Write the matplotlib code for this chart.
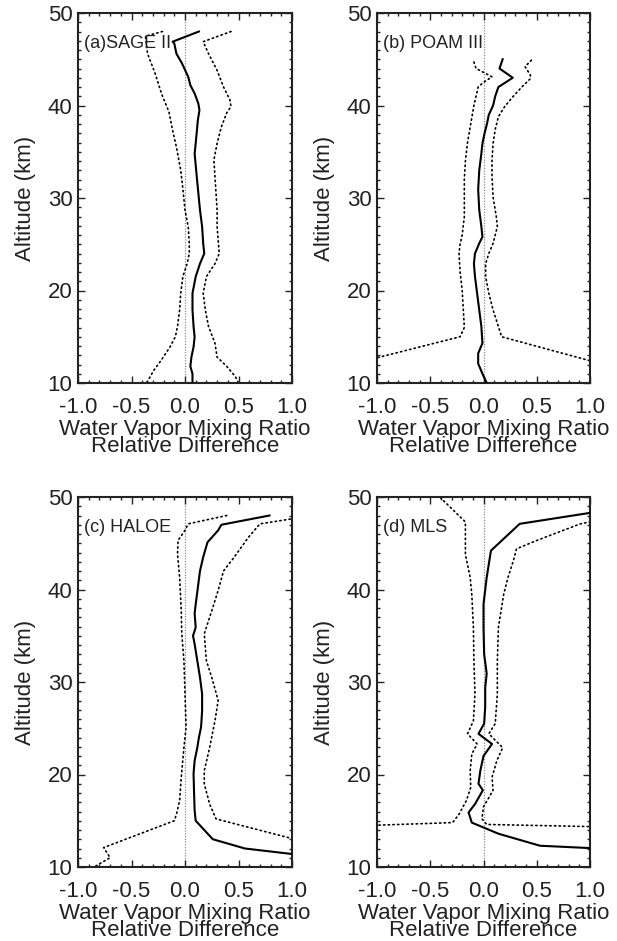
import matplotlib
matplotlib.use('Agg')
import matplotlib.pyplot as plt
from matplotlib.ticker import MultipleLocator, FormatStrFormatter

plt.rcParams['font.family'] = 'Liberation Sans'
plt.rcParams['axes.unicode_minus'] = False

# (a) SAGE II: mean relative difference and the two spread bounds
sage_alt_mean = [48.0, 46.9, 46.7, 45.6, 44.6, 43.1, 42.2, 41.3, 40.2, 39.5, 38.4, 35.9, 34.8, 32.3,
                 28.7, 26.9, 25.1, 24.0, 22.9, 21.5, 19.7, 17.9, 16.1, 15.0, 13.9, 12.8, 11.8, 11.0, 10.0]
sage_mean = [0.13, -0.115, -0.10, -0.08, -0.03, 0.03, 0.05, 0.09, 0.125, 0.135, 0.12, 0.10, 0.09, 0.11,
             0.14, 0.16, 0.17, 0.18, 0.14, 0.10, 0.07, 0.07, 0.08, 0.09, 0.08, 0.06, 0.05, 0.07, 0.07]
sage_alt_lo = [48.0, 47.5, 45.6, 43.5, 41.3, 39.3, 37.0, 35.5, 33.0, 31.0, 28.7, 26.9, 25.1, 24.0,
               22.9, 21.5, 19.7, 17.9, 16.1, 15.0, 13.9, 12.5, 11.4, 10.0]
sage_lo = [-0.21, -0.37, -0.35, -0.28, -0.22, -0.15, -0.11, -0.08, -0.04, -0.02, 0.0, 0.03, 0.04, 0.04,
           0.02, -0.02, -0.04, -0.05, -0.07, -0.09, -0.14, -0.22, -0.29, -0.36]
sage_alt_hi = [48.0, 46.9, 45.6, 43.8, 42.0, 40.6, 39.9, 39.2, 37.7, 35.9, 34.1, 32.3, 28.7, 26.9,
               24.0, 22.9, 21.5, 19.7, 17.9, 16.1, 14.3, 12.8, 11.8, 10.7, 10.0]
sage_hi = [0.43, 0.17, 0.22, 0.30, 0.36, 0.42, 0.43, 0.39, 0.34, 0.30, 0.27, 0.28, 0.30, 0.30,
           0.32, 0.28, 0.20, 0.17, 0.19, 0.22, 0.28, 0.30, 0.39, 0.47, 0.50]

# (b) POAM III
poam_alt_mean = [45.0, 44.0, 43.0, 42.0, 41.0, 40.0, 39.0, 37.9, 37.0, 35.9, 34.8, 33.0, 30.9, 28.7,
                 26.9, 25.8, 25.1, 24.0, 22.9, 21.5, 19.7, 17.9, 16.1, 14.3, 13.2, 12.1, 11.0, 10.0]
poam_mean = [0.18, 0.15, 0.275, 0.14, 0.11, 0.09, 0.05, 0.03, 0.01, -0.01, -0.02, -0.04, -0.05, -0.04,
             -0.02, -0.01, -0.04, -0.08, -0.09, -0.08, -0.06, -0.04, -0.02, -0.01, -0.05, -0.05, -0.01, 0.03]
poam_alt_lo = [44.7, 44.0, 43.1, 42.5, 42.0, 41.0, 40.0, 38.0, 36.0, 34.0, 32.0, 30.0, 28.0, 26.0,
               25.0, 24.0, 22.0, 20.0, 18.0, 16.0, 15.0, 12.0]
poam_lo = [-0.09, -0.07, 0.08, 0.0, -0.05, -0.07, -0.09, -0.12, -0.15, -0.17, -0.18, -0.18, -0.18, -0.20,
           -0.22, -0.23, -0.22, -0.20, -0.19, -0.18, -0.22, -1.25]
poam_alt_hi = [44.9, 44.2, 43.3, 42.9, 42.0, 41.0, 39.9, 38.8, 37.4, 35.9, 34.1, 32.3, 30.1, 28.0,
               26.9, 25.1, 24.0, 22.9, 21.5, 19.7, 17.9, 16.1, 15.0, 12.0]
poam_hi = [0.45, 0.39, 0.44, 0.44, 0.36, 0.28, 0.20, 0.14, 0.11, 0.09, 0.08, 0.08, 0.09, 0.12,
           0.13, 0.09, 0.05, 0.02, 0.02, 0.05, 0.09, 0.14, 0.17, 1.13]

# (c) HALOE
haloe_alt_mean = [48.0, 47.0, 46.4, 45.1, 43.5, 42.0, 40.2, 38.4, 37.4, 35.9, 35.0, 34.1, 32.3, 30.5,
                  28.7, 26.9, 25.1, 24.0, 22.9, 21.5, 20.1, 17.9, 16.1, 15.0, 13.0, 12.0, 11.0]
haloe_mean = [0.79, 0.34, 0.31, 0.21, 0.17, 0.14, 0.12, 0.10, 0.09, 0.10, 0.075, 0.09, 0.115, 0.14,
              0.16, 0.16, 0.15, 0.13, 0.115, 0.09, 0.08, 0.085, 0.09, 0.10, 0.26, 0.56, 1.3]
haloe_alt_lo = [48.0, 47.1, 46.4, 45.3, 43.8, 41.3, 37.7, 35.2, 32.3, 28.7, 25.1, 22.9, 19.7, 17.2,
                15.7, 15.0, 12.1, 11.0, 10.0]
haloe_lo = [0.39, 0.03, 0.0, -0.065, -0.07, -0.05, -0.035, -0.03, -0.01, 0.0, 0.01, -0.01, -0.035, -0.05,
            -0.08, -0.10, -0.76, -0.70, -0.85]
haloe_alt_hi = [48.0, 47.1, 45.6, 43.5, 42.0, 39.9, 37.7, 35.2, 32.3, 30.5, 28.0, 25.8, 22.9, 20.4,
                19.0, 16.8, 15.2, 12.0]
haloe_hi = [1.2, 0.70, 0.59, 0.46, 0.36, 0.31, 0.25, 0.18, 0.20, 0.25, 0.31, 0.28, 0.23, 0.18,
            0.18, 0.23, 0.29, 1.36]

# (d) MLS
mls_alt_mean = [49.0, 47.1, 44.2, 41.3, 38.4, 35.9, 33.0, 30.9, 29.4, 27.3, 25.5, 24.4, 23.3, 22.0,
                20.4, 19.0, 18.3, 16.8, 15.9, 14.8, 13.6, 12.3, 11.5]
mls_mean = [1.4, 0.34, 0.07, 0.03, 0.0, 0.0, 0.006, 0.03, 0.016, 0.016, 0.006, -0.047, 0.08, 0.0,
            -0.03, -0.047, -0.006, -0.08, -0.14, -0.11, 0.14, 0.53, 2.0]
mls_alt_lo = [51.0, 47.3, 43.8, 41.3, 39.5, 35.9, 32.3, 28.7, 25.8, 24.4, 23.3, 22.2, 20.4, 18.6,
              17.2, 15.7, 14.8, 14.4]
mls_lo = [-0.5, -0.17, -0.17, -0.125, -0.11, -0.095, -0.09, -0.08, -0.095, -0.15, -0.06, -0.11, -0.125, -0.12,
          -0.16, -0.23, -0.29, -1.3]
mls_alt_hi = [48.0, 47.1, 46.4, 45.3, 44.4, 43.1, 41.3, 39.5, 35.9, 32.3, 28.7, 25.5, 24.4, 22.9,
              21.5, 19.7, 18.3, 16.5, 15.2, 14.6, 14.3]
mls_hi = [1.3, 0.91, 0.75, 0.5, 0.31, 0.28, 0.23, 0.19, 0.14, 0.13, 0.13, 0.11, 0.05, 0.18,
          0.125, 0.08, 0.09, 0.0, -0.015, 0.03, 1.3]

panels = [
    ('(a)SAGE II', sage_alt_mean, sage_mean, sage_alt_lo, sage_lo, sage_alt_hi, sage_hi),
    ('(b) POAM III', poam_alt_mean, poam_mean, poam_alt_lo, poam_lo, poam_alt_hi, poam_hi),
    ('(c) HALOE', haloe_alt_mean, haloe_mean, haloe_alt_lo, haloe_lo, haloe_alt_hi, haloe_hi),
    ('(d) MLS', mls_alt_mean, mls_mean, mls_alt_lo, mls_lo, mls_alt_hi, mls_hi),
]

W, H = 617, 941
fig = plt.figure(figsize=(W / 100, H / 100), dpi=100)

# axes boxes in pixels: left, top, right, bottom
boxes = [(78, 13, 292, 383), (377, 13, 590, 383),
         (78, 497, 292, 867), (377, 497, 590, 867)]

dot = (0, (0.8, 2.0))
for (label, am, m, al, lo, ah, hi), (x0, y0, x1, y1) in zip(panels, boxes):
    ax = fig.add_axes([x0 / W, 1 - y1 / H, (x1 - x0) / W, (y1 - y0) / H])
    ax.axvline(0, color='0.55', lw=0.9, ls=(0, (1, 1.2)), zorder=1)
    ax.plot(m, am, color='black', lw=1.5, zorder=3)
    for vals, alts in ((lo, al), (hi, ah)):
        ax.plot(vals, alts, color='black', lw=1.2, ls=dot, dash_capstyle='round', zorder=2)

    ax.set_xlim(-1, 1)
    ax.set_ylim(10, 50)
    ax.xaxis.set_major_locator(MultipleLocator(0.5))
    ax.xaxis.set_minor_locator(MultipleLocator(0.1))
    ax.yaxis.set_major_locator(MultipleLocator(10))
    ax.yaxis.set_minor_locator(MultipleLocator(1))
    ax.xaxis.set_major_formatter(FormatStrFormatter('%.1f'))
    ax.tick_params(which='both', direction='in', top=True, right=True, width=1.0, color='#222222')
    ax.tick_params(which='major', length=5)
    ax.tick_params(which='minor', length=2.5)
    ax.tick_params(axis='x', which='major', labelsize=16, pad=10, labelcolor='#222222')
    ax.tick_params(axis='y', which='major', labelsize=16, pad=4, labelcolor='#222222')
    for sp in ax.spines.values():
        sp.set_linewidth(1.5)
        sp.set_color('#222222')

    ax.set_xlabel('Water Vapor Mixing Ratio\nRelative Difference', fontsize=16,
                  linespacing=0.76, labelpad=1, color='#222222')
    ax.set_ylabel('Altitude (km)', fontsize=16, labelpad=8, color='#222222')
    ax.text(0.028, 0.918, label, transform=ax.transAxes, fontsize=13,
            ha='left', va='center', color='#222222')

fig.savefig('out.png', dpi=100, facecolor='white')
